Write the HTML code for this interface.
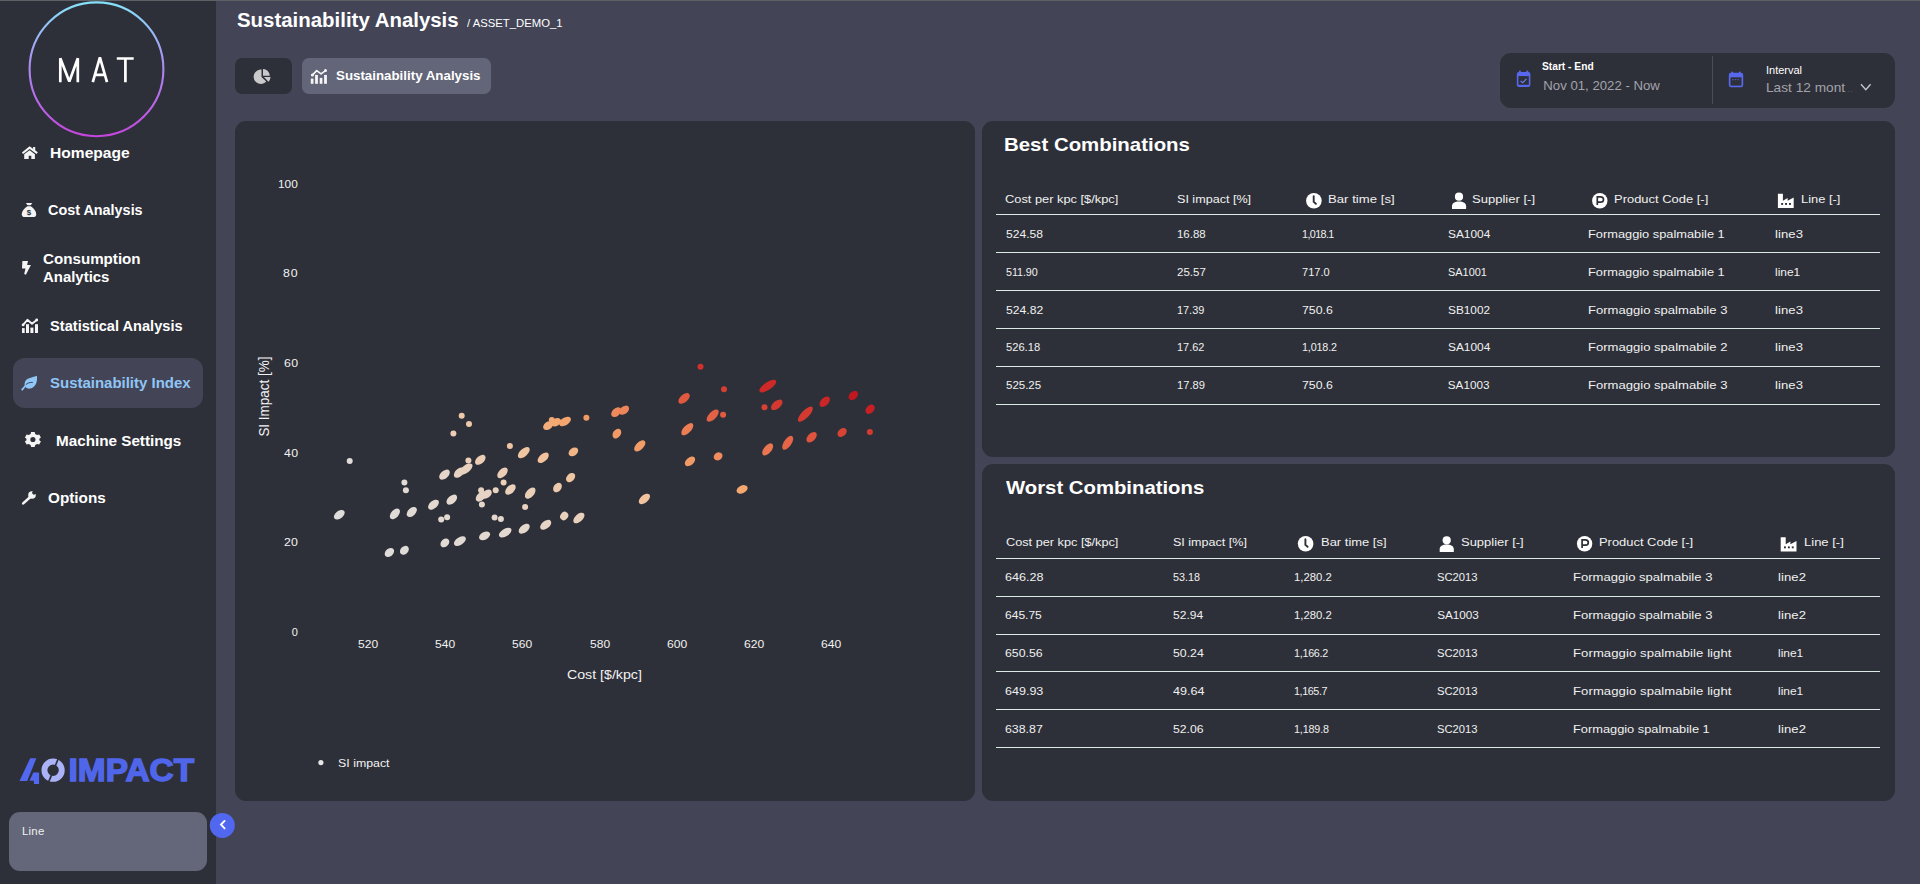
<!DOCTYPE html>
<html><head><meta charset="utf-8"><title>Sustainability Analysis</title>
<style>
html,body{margin:0;padding:0;}
body{width:1920px;height:884px;overflow:hidden;background:#434557;position:relative;font-family:"Liberation Sans",sans-serif;}
.t{position:absolute;white-space:nowrap;font-family:"Liberation Sans",sans-serif;}
.box{position:absolute;}
svg{position:absolute;left:0;top:0;overflow:visible;}
</style></head><body>
<div class="box" style="left:0;top:0;width:216px;height:884px;background:#2e3039"></div>
<div class="box" style="left:0;top:0;width:1920px;height:1px;background:#5f5f66"></div>
<!-- active nav pill -->
<div class="box" style="left:13px;top:358px;width:190px;height:50px;border-radius:12px;background:#434556"></div>
<!-- line card -->
<div class="box" style="left:9px;top:812px;width:198px;height:59px;border-radius:11px;background:#646779"></div>
<!-- tabs -->
<div class="box" style="left:235px;top:58px;width:57px;height:36px;border-radius:7px;background:#2e3039"></div>
<div class="box" style="left:302px;top:58px;width:189px;height:36px;border-radius:7px;background:#636679"></div>
<!-- date picker -->
<div class="box" style="left:1500px;top:53px;width:395px;height:55px;border-radius:11px;background:#2e3039"></div>
<div class="box" style="left:1712px;top:56px;width:1px;height:48px;background:#4a4c5c"></div>
<!-- cards -->
<div class="box" style="left:235px;top:121px;width:740px;height:680px;border-radius:11px;background:#2e3039"></div>
<div class="box" style="left:982px;top:121px;width:913px;height:336px;border-radius:11px;background:#2e3039"></div>
<div class="box" style="left:982px;top:464px;width:913px;height:337px;border-radius:11px;background:#2e3039"></div>
<!-- table lines -->
<div class="box" style="left:996px;top:214px;width:884px;height:1px;background:#dcebe6"></div>
<div class="box" style="left:996px;top:252px;width:884px;height:1px;background:#dcebe6"></div>
<div class="box" style="left:996px;top:290px;width:884px;height:1px;background:#dcebe6"></div>
<div class="box" style="left:996px;top:328px;width:884px;height:1px;background:#dcebe6"></div>
<div class="box" style="left:996px;top:366px;width:884px;height:1px;background:#dcebe6"></div>
<div class="box" style="left:996px;top:404px;width:884px;height:1px;background:#dcebe6"></div>
<div class="box" style="left:996px;top:558px;width:884px;height:1px;background:#dcebe6"></div>
<div class="box" style="left:996px;top:596px;width:884px;height:1px;background:#dcebe6"></div>
<div class="box" style="left:996px;top:634px;width:884px;height:1px;background:#dcebe6"></div>
<div class="box" style="left:996px;top:671px;width:884px;height:1px;background:#dcebe6"></div>
<div class="box" style="left:996px;top:709px;width:884px;height:1px;background:#dcebe6"></div>
<div class="box" style="left:996px;top:747px;width:884px;height:1px;background:#dcebe6"></div>
<!-- logo circle -->
<svg width="1920" height="884">
<defs><linearGradient id="lg" x1="0" y1="0" x2="0" y2="1"><stop offset="0" stop-color="#86e2f8"/><stop offset="0.45" stop-color="#a890f2"/><stop offset="1" stop-color="#c545de"/></linearGradient></defs>
<circle cx="96.5" cy="69.3" r="66.9" fill="none" stroke="url(#lg)" stroke-width="2.1"/>
<g fill="none" stroke="#fff" stroke-width="2.7" stroke-linejoin="miter" stroke-miterlimit="1.2" stroke-linecap="butt">
<path d="M60.3 82.2 V58.2 L69.3 81.6 L77.8 58.2 V82.2"/>
<path d="M92.8 82.2 L99.9 57.3 L107 82.2 M95.2 74.8 H104.6"/>
<path d="M116.8 58.5 H133.7 M125.4 58.5 V82.2"/>
</g>
</svg>
<!-- scatter -->
<svg width="1920" height="884">
<circle cx="349.7" cy="460.9" r="3" fill="#dfdcd9"/>
<ellipse cx="339.3" cy="514.7" rx="6.1" ry="3.8" transform="rotate(-37.7 339.3 514.7)" fill="#dedddc"/>
<circle cx="404.4" cy="482.6" r="3" fill="#e2d9d2"/>
<circle cx="405.9" cy="490.3" r="3" fill="#e2d9d2"/>
<ellipse cx="394.9" cy="513.9" rx="6.3" ry="3.8" transform="rotate(-48.2 394.9 513.9)" fill="#e0dbd6"/>
<ellipse cx="411.8" cy="512.0" rx="6.1" ry="3.8" transform="rotate(-45.0 411.8 512.0)" fill="#e1dad4"/>
<ellipse cx="389.4" cy="552.5" rx="5.3" ry="3.8" transform="rotate(-40.8 389.4 552.5)" fill="#dfdcd9"/>
<ellipse cx="404.4" cy="550.3" rx="5.0" ry="3.8" transform="rotate(-45.0 404.4 550.3)" fill="#dfdbd8"/>
<ellipse cx="433.5" cy="504.7" rx="6.3" ry="3.8" transform="rotate(-40.9 433.5 504.7)" fill="#e3d9d1"/>
<ellipse cx="451.8" cy="499.6" rx="6.3" ry="3.8" transform="rotate(-41.8 451.8 499.6)" fill="#e4d8cf"/>
<circle cx="441.2" cy="519.4" r="3" fill="#e2d9d2"/>
<circle cx="447.1" cy="517.2" r="3" fill="#e2d9d1"/>
<ellipse cx="444.9" cy="542.9" rx="5.0" ry="3.8" transform="rotate(-44.4 444.9 542.9)" fill="#e1dad5"/>
<ellipse cx="459.9" cy="541.1" rx="6.7" ry="3.8" transform="rotate(-32.7 459.9 541.1)" fill="#e1dad4"/>
<ellipse cx="444.5" cy="474.6" rx="6.3" ry="3.8" transform="rotate(-41.8 444.5 474.6)" fill="#e6d6c9"/>
<ellipse cx="459.2" cy="472.6" rx="6.4" ry="3.8" transform="rotate(-42.7 459.2 472.6)" fill="#e7d3c3"/>
<ellipse cx="466.1" cy="469.0" rx="7.6" ry="3.8" transform="rotate(-37.6 466.1 469.0)" fill="#e8d1bf"/>
<circle cx="468.4" cy="460.6" r="3" fill="#eacfba"/>
<ellipse cx="480.3" cy="459.8" rx="6.2" ry="3.8" transform="rotate(-41.2 480.3 459.8)" fill="#ebcdb6"/>
<ellipse cx="502.5" cy="472.9" rx="6.4" ry="3.8" transform="rotate(-45.0 502.5 472.9)" fill="#ebcdb5"/>
<circle cx="503.6" cy="482.4" r="3" fill="#eacfb9"/>
<circle cx="495.7" cy="490.3" r="3" fill="#e8d2c0"/>
<ellipse cx="480.9" cy="496.5" rx="6.2" ry="3.8" transform="rotate(-44.5 480.9 496.5)" fill="#e6d5c6"/>
<ellipse cx="486.6" cy="494.2" rx="5.8" ry="3.8" transform="rotate(-36.1 486.6 494.2)" fill="#e7d4c4"/>
<circle cx="481.1" cy="490.3" r="3" fill="#e7d3c4"/>
<circle cx="481.9" cy="504.5" r="3" fill="#e5d6ca"/>
<ellipse cx="510.4" cy="489.5" rx="6.4" ry="3.8" transform="rotate(-45.0 510.4 489.5)" fill="#e9d0bb"/>
<ellipse cx="530.2" cy="493.1" rx="6.7" ry="3.8" transform="rotate(-48.0 530.2 493.1)" fill="#eaceb8"/>
<circle cx="525.1" cy="506.9" r="3" fill="#e8d2c1"/>
<ellipse cx="557.5" cy="487.5" rx="5.3" ry="3.8" transform="rotate(-54.5 557.5 487.5)" fill="#edcaad"/>
<ellipse cx="570.6" cy="477.6" rx="5.3" ry="3.8" transform="rotate(-45.0 570.6 477.6)" fill="#f0c5a2"/>
<ellipse cx="523.8" cy="452.6" rx="7.2" ry="3.8" transform="rotate(-41.9 523.8 452.6)" fill="#f0c5a2"/>
<circle cx="509.9" cy="445.9" r="3" fill="#f0c5a3"/>
<ellipse cx="543.2" cy="457.8" rx="6.7" ry="3.8" transform="rotate(-42.0 543.2 457.8)" fill="#f1c29d"/>
<ellipse cx="573.4" cy="451.9" rx="5.3" ry="3.8" transform="rotate(-36.0 573.4 451.9)" fill="#f2b588"/>
<ellipse cx="548.1" cy="425.6" rx="5.5" ry="3.8" transform="rotate(-35.9 548.1 425.6)" fill="#f3ae7b"/>
<ellipse cx="556.0" cy="422.2" rx="5.4" ry="3.8" transform="rotate(-30.3 556.0 422.2)" fill="#f4a973"/>
<ellipse cx="565.0" cy="421.5" rx="6.6" ry="3.8" transform="rotate(-32.0 565.0 421.5)" fill="#f4a56d"/>
<circle cx="551.8" cy="420.0" r="3" fill="#f4a973"/>
<circle cx="586.4" cy="417.7" r="3" fill="#f29966"/>
<ellipse cx="616.1" cy="412.2" rx="5.8" ry="3.8" transform="rotate(-45.0 616.1 412.2)" fill="#ee895c"/>
<ellipse cx="624.0" cy="410.2" rx="5.7" ry="3.8" transform="rotate(-37.0 624.0 410.2)" fill="#ee8459"/>
<ellipse cx="616.9" cy="433.6" rx="5.3" ry="3.8" transform="rotate(-54.0 616.9 433.6)" fill="#f29a66"/>
<circle cx="494.6" cy="517.5" r="3" fill="#e4d7cd"/>
<circle cx="500.9" cy="519.1" r="3" fill="#e5d7cc"/>
<ellipse cx="505.2" cy="532.6" rx="7.0" ry="3.8" transform="rotate(-32.3 505.2 532.6)" fill="#e3d8cf"/>
<ellipse cx="524.2" cy="528.7" rx="6.4" ry="3.8" transform="rotate(-38.3 524.2 528.7)" fill="#e4d7cc"/>
<ellipse cx="545.7" cy="524.8" rx="6.4" ry="3.8" transform="rotate(-37.8 545.7 524.8)" fill="#e6d5c6"/>
<ellipse cx="564.2" cy="516.0" rx="4.4" ry="3.8" transform="rotate(-52.2 564.2 516.0)" fill="#e9d1bd"/>
<ellipse cx="578.9" cy="518.0" rx="6.7" ry="3.8" transform="rotate(-41.6 578.9 518.0)" fill="#e9d0bc"/>
<ellipse cx="484.6" cy="535.8" rx="6.0" ry="3.8" transform="rotate(-28.8 484.6 535.8)" fill="#e2d9d1"/>
<circle cx="461.7" cy="415.8" r="3" fill="#eec8a9"/>
<circle cx="469.0" cy="424.0" r="3" fill="#eec8a9"/>
<circle cx="453.4" cy="433.5" r="3" fill="#ebcdb5"/>
<ellipse cx="639.8" cy="445.9" rx="7.0" ry="3.8" transform="rotate(-45.0 639.8 445.9)" fill="#f29c68"/>
<ellipse cx="644.4" cy="498.9" rx="6.7" ry="3.8" transform="rotate(-40.8 644.4 498.9)" fill="#f1c39f"/>
<circle cx="700.5" cy="366.7" r="3" fill="#d0312c"/>
<circle cx="724.0" cy="389.3" r="3" fill="#d63e32"/>
<ellipse cx="684.1" cy="398.4" rx="6.8" ry="3.8" transform="rotate(-41.2 684.1 398.4)" fill="#e15a40"/>
<ellipse cx="712.7" cy="415.6" rx="7.7" ry="3.8" transform="rotate(-45.4 712.7 415.6)" fill="#e36144"/>
<circle cx="723.1" cy="414.8" r="3" fill="#e25b41"/>
<ellipse cx="687.3" cy="429.2" rx="7.7" ry="3.8" transform="rotate(-45.4 687.3 429.2)" fill="#ec7d54"/>
<ellipse cx="690.0" cy="461.3" rx="6.0" ry="3.8" transform="rotate(-40.6 690.0 461.3)" fill="#f29a66"/>
<ellipse cx="718.1" cy="456.4" rx="4.6" ry="3.8" transform="rotate(-30.4 718.1 456.4)" fill="#ef8d5e"/>
<ellipse cx="742.1" cy="489.4" rx="5.9" ry="3.8" transform="rotate(-26.6 742.1 489.4)" fill="#f4a76f"/>
<ellipse cx="767.8" cy="386.1" rx="9.8" ry="3.8" transform="rotate(-33.6 767.8 386.1)" fill="#cc2928"/>
<circle cx="764.5" cy="407.3" r="3" fill="#d74133"/>
<ellipse cx="776.8" cy="404.8" rx="6.8" ry="3.8" transform="rotate(-39.6 776.8 404.8)" fill="#d43930"/>
<ellipse cx="805.4" cy="414.1" rx="9.9" ry="3.8" transform="rotate(-45.3 805.4 414.1)" fill="#d43a30"/>
<ellipse cx="824.7" cy="401.7" rx="6.3" ry="3.8" transform="rotate(-45.0 824.7 401.7)" fill="#ca2527"/>
<ellipse cx="853.3" cy="395.5" rx="5.4" ry="3.8" transform="rotate(-45.0 853.3 395.5)" fill="#c31720"/>
<ellipse cx="870.1" cy="409.2" rx="5.4" ry="3.8" transform="rotate(-45.0 870.1 409.2)" fill="#c72024"/>
<circle cx="869.9" cy="432.0" r="3" fill="#d43a30"/>
<ellipse cx="842.1" cy="432.5" rx="5.2" ry="3.8" transform="rotate(-41.3 842.1 432.5)" fill="#d84434"/>
<ellipse cx="811.6" cy="437.2" rx="6.3" ry="3.8" transform="rotate(-45.0 811.6 437.2)" fill="#df543c"/>
<ellipse cx="787.7" cy="442.8" rx="8.0" ry="3.8" transform="rotate(-55.4 787.7 442.8)" fill="#e56546"/>
<ellipse cx="767.7" cy="449.4" rx="7.2" ry="3.8" transform="rotate(-50.0 767.7 449.4)" fill="#ea7550"/>
<circle cx="320.9" cy="762.6" r="2.6" fill="#e6e6e6"/>
</svg>

<!-- sidebar icons -->
<svg width="1920" height="884">
<g fill="#f4f4f4">
<!-- house -->
<path d="M22.5 153.2 L29.6 147.6 L37.2 153.2" fill="none" stroke="#f4f4f4" stroke-width="2.1" stroke-linejoin="miter"/>
<rect x="33.1" y="147" width="2.1" height="4"/>
<path d="M24.2 154.2 L29.6 150.2 L34.9 154.2 V158.9 H31.3 V155.8 H28.7 V158.9 H24.2 Z"/>
<!-- money bag -->
<path d="M25.9 202.9 H32.3 L30.6 205.3 H27.6 Z"/>
<path d="M27.4 206.3 H30.8 C34 208.5 36.2 211.5 36.2 214.2 C36.2 216.3 35 217 33 217 H25 C23 217 21.8 216.3 21.8 214.2 C21.8 211.5 24 208.5 27.4 206.3 Z"/>
<text x="29" y="215.3" font-family="Liberation Sans" font-size="8" font-weight="bold" fill="#2e3039" text-anchor="middle">$</text>
<!-- bolt -->
<path d="M22.4 260.9 H28 L27.1 265 H30.9 L25.9 274.7 L24.2 274.1 L25.5 268.6 H22 Z"/>
<!-- stats -->
<g transform="translate(16 314)">
<rect x="6" y="14.1" width="2.7" height="4.9"/><rect x="10" y="10.2" width="3" height="8.8"/><rect x="14.4" y="13.6" width="3" height="5.4"/><rect x="19" y="10.2" width="3" height="8.8"/>
<path d="M7.1 10.9 L11.4 5.8 L16 9.8 L20.7 6" fill="none" stroke="#f4f4f4" stroke-width="1.8" stroke-linejoin="round" stroke-linecap="round"/>
<circle cx="7.1" cy="10.9" r="1.4"/><circle cx="20.7" cy="6" r="1.4"/>
</g>
<!-- gear -->
<g transform="translate(32.9 439.5) scale(0.92)">
<path d="M-1.9 -8.2 H1.9 L2.5 -6 L4.6 -4.8 L6.8 -5.5 L8.7 -2.2 L7 -0.7 V0.7 L8.7 2.2 L6.8 5.5 L4.6 4.8 L2.5 6 L1.9 8.2 H-1.9 L-2.5 6 L-4.6 4.8 L-6.8 5.5 L-8.7 2.2 L-7 0.7 V-0.7 L-8.7 -2.2 L-6.8 -5.5 L-4.6 -4.8 L-2.5 -6 Z"/>
<circle cx="0" cy="0" r="2.8" fill="#2e3039"/>
</g>
<!-- wrench -->
<g transform="translate(16 486)">
<line x1="7.2" y1="17.4" x2="14" y2="11.2" stroke="#f4f4f4" stroke-width="2.6" stroke-linecap="round"/>
<circle cx="16" cy="9" r="3.8"/>
<circle cx="18.3" cy="6.6" r="2" fill="#2e3039"/>
<path d="M17 7.8 L21 3.8" stroke="#2e3039" stroke-width="2.6"/>
</g>
</g>
<!-- leaf -->
<g transform="translate(16 371)">
<path d="M20.9 4.8 C15.5 7.2 9.5 6.5 8.6 12.5 C8.2 15.8 10.5 17.9 13.8 17.6 C19 17.2 21.8 11.5 20.9 4.8 Z" fill="#90c6f6"/>
<path d="M6.2 18.6 C8 16.2 10 14 12 12.8" fill="none" stroke="#90c6f6" stroke-width="1.8" stroke-linecap="round"/>
<path d="M9.8 13.6 C11.8 11.9 14 11.2 16.8 11.4" fill="none" stroke="#3a4a66" stroke-width="1"/>
</g>
</svg>
<!-- tab icons -->
<svg width="1920" height="884">
<g fill="#c9c9c9" transform="translate(251.2 64)">
<path d="M10.3 5.6 V12.9 L15 17.6 A7.2 7.2 0 1 1 10.3 5.6 Z"/>
<path d="M11.8 4.9 A7 7 0 0 1 18.6 11.7 H11.8 Z"/>
<path d="M12.7 13.1 H19.4 A7 7 0 0 1 17.2 17.7 Z"/>
</g>
<g fill="#f6f6f6">
<rect x="310.8" y="78.6" width="2.7" height="5.2"/><rect x="315.1" y="74.9" width="2.8" height="8.9"/><rect x="319.7" y="77.9" width="2.7" height="5.9"/><rect x="324.1" y="74.9" width="2.8" height="8.9"/>
<path d="M312.4 75.1 L316.7 70.6 L321.1 73.9 L325.5 70.6" fill="none" stroke="#f6f6f6" stroke-width="1.7" stroke-linejoin="round" stroke-linecap="round"/>
<circle cx="312.4" cy="75.1" r="1.5"/><circle cx="325.5" cy="70.6" r="1.5"/>
</g>
<!-- calendars -->
<g transform="translate(1516 70.7)">
<rect x="0.8" y="1.2" width="13.6" height="15" rx="2.2" fill="#5868ee"/>
<rect x="2.4" y="5.4" width="10.4" height="8.7" fill="#2e3039"/>
<rect x="3" y="0" width="1.8" height="2" fill="#5868ee"/><rect x="10.4" y="0" width="1.8" height="2" fill="#5868ee"/>
<path d="M4.6 10.3 L6.8 12 L10.4 8.2" fill="none" stroke="#6c7af0" stroke-width="1.2"/>
</g>
<g transform="translate(1728.3 71.7)">
<rect x="0.5" y="1" width="14.4" height="14.6" rx="2.2" fill="#5868ee"/>
<rect x="2.2" y="5.6" width="11" height="8.3" fill="#2e3039"/>
<rect x="3" y="0" width="1.8" height="2" fill="#5868ee"/><rect x="10.6" y="0" width="1.8" height="2" fill="#5868ee"/>
<path d="M4 8 H11.4" stroke="#5868ee" stroke-width="0.9" stroke-dasharray="1.4 1.2"/>
</g>
<path d="M1861 84.2 L1865.8 89.6 L1870.6 84.2" fill="none" stroke="#c4c4cc" stroke-width="1.4"/>
</svg>
<!-- table header icons -->
<svg width="1920" height="884">
<g id="hb">
<g fill="#fff">
<circle cx="1313.9" cy="200.8" r="7.8"/>
<path d="M1313.7 196.3 V201.9 L1315.9 203.8" fill="none" stroke="#2e3039" stroke-width="1.9" stroke-linecap="round" stroke-linejoin="round"/>
<circle cx="1459" cy="196.7" r="4.1"/>
<path d="M1452 208.9 V206.2 C1452 203.3 1454.8 201.6 1459 201.6 C1463.2 201.6 1466.1 203.3 1466.1 206.2 V208.9 Z"/>
<circle cx="1599.8" cy="200.8" r="7.7"/>
<path d="M1597.3 204.9 V196.8 H1600.6 C1602.4 196.8 1603.5 197.9 1603.5 199.5 C1603.5 201.1 1602.4 202.2 1600.6 202.2 H1597.3" fill="none" stroke="#2e3039" stroke-width="1.7"/>
<path d="M1777.9 208 V193.8 H1782.9 V200.8 L1787.6 198 V200.8 L1793.7 197.6 V208 Z"/>
</g>
<g fill="#2e3039"><rect x="1781.2" y="203" width="1.9" height="1.9"/><rect x="1785.1" y="203" width="1.9" height="1.9"/><rect x="1789" y="203" width="1.9" height="1.9"/></g>
</g>
</svg>
<svg width="1920" height="884">
<g fill="#fff">
<circle cx="1305.6" cy="543.8" r="7.8"/>
<path d="M1305.4 539.3 V544.9 L1307.6 546.8" fill="none" stroke="#2e3039" stroke-width="1.9" stroke-linecap="round" stroke-linejoin="round"/>
<circle cx="1446.7" cy="540.3" r="4.1"/>
<path d="M1439.7 551.9 V549.2 C1439.7 546.3 1442.5 544.6 1446.7 544.6 C1450.9 544.6 1453.8 546.3 1453.8 549.2 V551.9 Z"/>
<circle cx="1584.6" cy="543.8" r="7.7"/>
<path d="M1582.1 547.9 V539.8 H1585.4 C1587.2 539.8 1588.3 540.9 1588.3 542.5 C1588.3 544.1 1587.2 545.2 1585.4 545.2 H1582.1" fill="none" stroke="#2e3039" stroke-width="1.7"/>
<path d="M1780.7 551.4 V537.2 H1785.7 V544.2 L1790.4 541.4 V544.2 L1796.5 541 V551.4 Z"/>
</g>
<g fill="#2e3039"><rect x="1784" y="546.4" width="1.9" height="1.9"/><rect x="1787.9" y="546.4" width="1.9" height="1.9"/><rect x="1791.8" y="546.4" width="1.9" height="1.9"/></g>
</svg>
<!-- 40IMPACT logo -->
<svg width="1920" height="884">
<g fill="#5268ee">
<path d="M30.2 758.2 H36.4 L27.2 781 H19.5 Z"/>
<path d="M29.5 780.7 L33.3 772.6 H39.1 V784 H33.9 V780.7 Z"/>
</g>
<circle cx="53.1" cy="770.2" r="8.65" fill="none" stroke="#aab3f7" stroke-width="5.9"/>
<path d="M58.2 758.8 L48.8 781.6" stroke="#2e3039" stroke-width="1.7"/>
<text x="68.6" y="780.5" font-family="Liberation Sans" font-weight="bold" font-size="31.2" fill="#5066ea" stroke="#5066ea" stroke-width="1.4" textLength="125.5" lengthAdjust="spacingAndGlyphs">IMPACT</text>
</svg>
<!-- collapse button -->
<svg width="1920" height="884">
<circle cx="222.3" cy="825.4" r="12.5" fill="#5267f0"/>
<path d="M224.6 820.9 L221 824.6 L224.6 828.4" fill="none" stroke="#fff" stroke-width="1.9" stroke-linecap="round" stroke-linejoin="miter"/>
</svg>
<!-- y axis title -->
<svg width="1920" height="884">
<text transform="translate(269.3 436.6) rotate(-90)" font-family="Liberation Sans" font-size="14.2" fill="#f2f2f2" textLength="80" lengthAdjust="spacingAndGlyphs">SI Impact [%]</text>
</svg>

<div class="t" style="left:237.18px;top:11.29px;font-size:19.50px;line-height:19.50px;letter-spacing:0.000px;color:#fff;transform:scaleX(1.0471);transform-origin:0 0;font-weight:bold">Sustainability Analysis</div>
<div class="t" style="left:467.00px;top:17.38px;font-size:11.60px;line-height:11.60px;letter-spacing:0.000px;color:#fff;transform:scaleX(0.9757);transform-origin:0 0">/ ASSET_DEMO_1</div>
<div class="t" style="left:336.41px;top:68.69px;font-size:13.60px;line-height:13.60px;letter-spacing:0.000px;color:#fff;transform:scaleX(0.9791);transform-origin:0 0;font-weight:bold">Sustainability Analysis</div>
<div class="t" style="left:1542.30px;top:61.73px;font-size:10.00px;line-height:10.00px;letter-spacing:0.000px;color:#fff;transform:scaleX(1.0211);transform-origin:0 0;font-weight:bold">Start - End</div>
<div class="t" style="left:1543.30px;top:79.13px;font-size:13.20px;line-height:13.20px;letter-spacing:0.000px;color:#a3a3ab">Nov 01, 2022 - Now</div>
<div class="t" style="left:1765.83px;top:65.57px;font-size:10.20px;line-height:10.20px;letter-spacing:0.000px;color:#ffffff;transform:scaleX(1.0790);transform-origin:0 0">Interval</div>
<div class="t" style="left:1765.86px;top:81.33px;font-size:13.20px;line-height:13.20px;letter-spacing:0.000px;color:#a3a3ab;transform:scaleX(1.0366);transform-origin:0 0">Last 12 mont</div>
<div class="t" style="left:1844.42px;top:85.73px;font-size:8.00px;line-height:8.00px;letter-spacing:0.592px;color:#5c5d66;transform:scaleX(1.1200);transform-origin:0 0">...</div>
<div class="t" style="left:49.74px;top:145.84px;font-size:14.60px;line-height:14.60px;letter-spacing:0.000px;color:#fff;transform:scaleX(1.0679);transform-origin:0 0;font-weight:bold">Homepage</div>
<div class="t" style="left:48.21px;top:202.64px;font-size:14.60px;line-height:14.60px;letter-spacing:0.000px;color:#fff;transform:scaleX(0.9860);transform-origin:0 0;font-weight:bold">Cost Analysis</div>
<div class="t" style="left:43.18px;top:251.64px;font-size:14.60px;line-height:14.60px;letter-spacing:0.000px;color:#fff;transform:scaleX(1.0382);transform-origin:0 0;font-weight:bold">Consumption</div>
<div class="t" style="left:43.09px;top:269.64px;font-size:14.60px;line-height:14.60px;letter-spacing:0.000px;color:#fff;transform:scaleX(1.0235);transform-origin:0 0;font-weight:bold">Analytics</div>
<div class="t" style="left:50.10px;top:318.64px;font-size:14.60px;line-height:14.60px;letter-spacing:0.000px;color:#fff;font-weight:bold">Statistical Analysis</div>
<div class="t" style="left:49.99px;top:375.74px;font-size:14.60px;line-height:14.60px;letter-spacing:0.000px;color:#90c6f6;transform:scaleX(1.0257);transform-origin:0 0;font-weight:bold">Sustainability Index</div>
<div class="t" style="left:55.76px;top:434.14px;font-size:14.60px;line-height:14.60px;letter-spacing:-0.000px;color:#fff;transform:scaleX(1.0443);transform-origin:0 0;font-weight:bold">Machine Settings</div>
<div class="t" style="left:48.18px;top:491.14px;font-size:14.60px;line-height:14.60px;letter-spacing:0.000px;color:#fff;transform:scaleX(1.0475);transform-origin:0 0;font-weight:bold">Options</div>
<div class="t" style="left:21.70px;top:827.17px;font-size:10.20px;line-height:10.20px;letter-spacing:0.213px;color:#f0f0f0;transform:scaleX(1.1200);transform-origin:0 0">Line</div>
<div class="t" style="left:278.24px;top:178.79px;font-size:11.00px;line-height:11.00px;letter-spacing:0.000px;color:#f2f2f2;transform:scaleX(1.0738);transform-origin:0 0">100</div>
<div class="t" style="left:283.45px;top:268.49px;font-size:11.00px;line-height:11.00px;letter-spacing:0.725px;color:#f2f2f2;transform:scaleX(1.1200);transform-origin:0 0">80</div>
<div class="t" style="left:283.84px;top:358.19px;font-size:11.00px;line-height:11.00px;letter-spacing:0.379px;color:#f2f2f2;transform:scaleX(1.1200);transform-origin:0 0">60</div>
<div class="t" style="left:283.88px;top:447.79px;font-size:11.00px;line-height:11.00px;letter-spacing:0.347px;color:#f2f2f2;transform:scaleX(1.1200);transform-origin:0 0">40</div>
<div class="t" style="left:284.14px;top:537.29px;font-size:11.00px;line-height:11.00px;letter-spacing:0.111px;color:#f2f2f2;transform:scaleX(1.1200);transform-origin:0 0">20</div>
<div class="t" style="left:291.80px;top:627.09px;font-size:11.00px;line-height:11.00px;letter-spacing:0.000px;color:#f2f2f2">0</div>
<div class="t" style="left:357.66px;top:638.59px;font-size:11.00px;line-height:11.00px;letter-spacing:0.000px;color:#f2f2f2;transform:scaleX(1.0949);transform-origin:0 0">520</div>
<div class="t" style="left:434.96px;top:638.59px;font-size:11.00px;line-height:11.00px;letter-spacing:0.000px;color:#f2f2f2;transform:scaleX(1.0949);transform-origin:0 0">540</div>
<div class="t" style="left:512.26px;top:638.59px;font-size:11.00px;line-height:11.00px;letter-spacing:0.000px;color:#f2f2f2;transform:scaleX(1.0949);transform-origin:0 0">560</div>
<div class="t" style="left:589.56px;top:638.59px;font-size:11.00px;line-height:11.00px;letter-spacing:0.000px;color:#f2f2f2;transform:scaleX(1.0949);transform-origin:0 0">580</div>
<div class="t" style="left:666.75px;top:638.59px;font-size:11.00px;line-height:11.00px;letter-spacing:0.000px;color:#f2f2f2;transform:scaleX(1.1012);transform-origin:0 0">600</div>
<div class="t" style="left:744.05px;top:638.59px;font-size:11.00px;line-height:11.00px;letter-spacing:0.000px;color:#f2f2f2;transform:scaleX(1.1012);transform-origin:0 0">620</div>
<div class="t" style="left:821.35px;top:638.59px;font-size:11.00px;line-height:11.00px;letter-spacing:0.000px;color:#f2f2f2;transform:scaleX(1.1012);transform-origin:0 0">640</div>
<div class="t" style="left:566.85px;top:668.00px;font-size:13.00px;line-height:13.00px;letter-spacing:0.000px;color:#f2f2f2;transform:scaleX(1.0905);transform-origin:0 0">Cost [$/kpc]</div>
<div class="t" style="left:338.04px;top:757.69px;font-size:11.00px;line-height:11.00px;letter-spacing:0.019px;color:#f2f2f2;transform:scaleX(1.1200);transform-origin:0 0">SI impact</div>
<div class="t" style="left:1004.11px;top:134.92px;font-size:19.00px;line-height:19.00px;letter-spacing:0.000px;color:#fff;transform:scaleX(1.0739);transform-origin:0 0;font-weight:bold">Best Combinations</div>
<div class="t" style="left:1005.60px;top:478.12px;font-size:19.00px;line-height:19.00px;letter-spacing:0.000px;color:#fff;transform:scaleX(1.0690);transform-origin:0 0;font-weight:bold">Worst Combinations</div>
<div class="t" style="left:1005.45px;top:193.10px;font-size:11.70px;line-height:11.70px;letter-spacing:0.000px;color:#f0f0f0;transform:scaleX(1.0965);transform-origin:0 0">Cost per kpc [$/kpc]</div>
<div class="t" style="left:1176.96px;top:193.10px;font-size:11.70px;line-height:11.70px;letter-spacing:0.000px;color:#f0f0f0;transform:scaleX(1.0758);transform-origin:0 0">SI impact [%]</div>
<div class="t" style="left:1327.74px;top:193.10px;font-size:11.70px;line-height:11.70px;letter-spacing:0.039px;color:#f0f0f0;transform:scaleX(1.1200);transform-origin:0 0">Bar time [s]</div>
<div class="t" style="left:1472.34px;top:193.10px;font-size:11.70px;line-height:11.70px;letter-spacing:0.000px;color:#f0f0f0;transform:scaleX(1.1152);transform-origin:0 0">Supplier [-]</div>
<div class="t" style="left:1614.20px;top:193.10px;font-size:11.70px;line-height:11.70px;letter-spacing:0.000px;color:#f0f0f0;transform:scaleX(1.1073);transform-origin:0 0">Product Code [-]</div>
<div class="t" style="left:1800.91px;top:193.10px;font-size:11.70px;line-height:11.70px;letter-spacing:0.000px;color:#f0f0f0;transform:scaleX(1.1021);transform-origin:0 0">Line [-]</div>
<div class="t" style="left:1005.56px;top:536.00px;font-size:11.70px;line-height:11.70px;letter-spacing:0.000px;color:#f0f0f0;transform:scaleX(1.0877);transform-origin:0 0">Cost per kpc [$/kpc]</div>
<div class="t" style="left:1172.76px;top:536.00px;font-size:11.70px;line-height:11.70px;letter-spacing:0.000px;color:#f0f0f0;transform:scaleX(1.0729);transform-origin:0 0">SI impact [%]</div>
<div class="t" style="left:1320.70px;top:536.00px;font-size:11.70px;line-height:11.70px;letter-spacing:0.000px;color:#f0f0f0;transform:scaleX(1.1093);transform-origin:0 0">Bar time [s]</div>
<div class="t" style="left:1460.85px;top:536.00px;font-size:11.70px;line-height:11.70px;letter-spacing:-0.000px;color:#f0f0f0;transform:scaleX(1.1098);transform-origin:0 0">Supplier [-]</div>
<div class="t" style="left:1598.81px;top:536.00px;font-size:11.70px;line-height:11.70px;letter-spacing:0.000px;color:#f0f0f0;transform:scaleX(1.1049);transform-origin:0 0">Product Code [-]</div>
<div class="t" style="left:1803.50px;top:536.00px;font-size:11.70px;line-height:11.70px;letter-spacing:0.000px;color:#f0f0f0;transform:scaleX(1.1138);transform-origin:0 0">Line [-]</div>
<div class="t" style="left:1005.59px;top:228.00px;font-size:11.70px;line-height:11.70px;letter-spacing:-0.000px;color:#f0f0f0;transform:scaleX(1.0342);transform-origin:0 0">524.58</div>
<div class="t" style="left:1176.72px;top:228.00px;font-size:11.70px;line-height:11.70px;letter-spacing:0.000px;color:#f0f0f0;transform:scaleX(0.9804);transform-origin:0 0">16.88</div>
<div class="t" style="left:1301.76px;top:228.00px;font-size:11.70px;line-height:11.70px;letter-spacing:-0.645px;color:#f0f0f0;transform:scaleX(0.9200);transform-origin:0 0">1,018.1</div>
<div class="t" style="left:1447.79px;top:228.00px;font-size:11.70px;line-height:11.70px;letter-spacing:0.000px;color:#f0f0f0;transform:scaleX(1.0170);transform-origin:0 0">SA1004</div>
<div class="t" style="left:1587.91px;top:228.00px;font-size:11.70px;line-height:11.70px;letter-spacing:0.000px;color:#f0f0f0;transform:scaleX(1.0964);transform-origin:0 0">Formaggio spalmabile 1</div>
<div class="t" style="left:1774.82px;top:228.00px;font-size:11.70px;line-height:11.70px;letter-spacing:0.061px;color:#f0f0f0;transform:scaleX(1.1200);transform-origin:0 0">line3</div>
<div class="t" style="left:1005.63px;top:265.80px;font-size:11.70px;line-height:11.70px;letter-spacing:-0.080px;color:#f0f0f0;transform:scaleX(0.9200);transform-origin:0 0">511.90</div>
<div class="t" style="left:1177.01px;top:265.80px;font-size:11.70px;line-height:11.70px;letter-spacing:0.000px;color:#f0f0f0;transform:scaleX(0.9851);transform-origin:0 0">25.57</div>
<div class="t" style="left:1301.93px;top:265.80px;font-size:11.70px;line-height:11.70px;letter-spacing:0.000px;color:#f0f0f0;transform:scaleX(0.9424);transform-origin:0 0">717.0</div>
<div class="t" style="left:1447.83px;top:265.80px;font-size:11.70px;line-height:11.70px;letter-spacing:0.000px;color:#f0f0f0;transform:scaleX(0.9357);transform-origin:0 0">SA1001</div>
<div class="t" style="left:1587.91px;top:265.80px;font-size:11.70px;line-height:11.70px;letter-spacing:0.000px;color:#f0f0f0;transform:scaleX(1.0964);transform-origin:0 0">Formaggio spalmabile 1</div>
<div class="t" style="left:1774.89px;top:265.80px;font-size:11.70px;line-height:11.70px;letter-spacing:-0.000px;color:#f0f0f0;transform:scaleX(1.0201);transform-origin:0 0">line1</div>
<div class="t" style="left:1005.58px;top:303.60px;font-size:11.70px;line-height:11.70px;letter-spacing:0.000px;color:#f0f0f0;transform:scaleX(1.0402);transform-origin:0 0">524.82</div>
<div class="t" style="left:1176.75px;top:303.60px;font-size:11.70px;line-height:11.70px;letter-spacing:0.000px;color:#f0f0f0;transform:scaleX(0.9323);transform-origin:0 0">17.39</div>
<div class="t" style="left:1301.87px;top:303.60px;font-size:11.70px;line-height:11.70px;letter-spacing:0.000px;color:#f0f0f0;transform:scaleX(1.0506);transform-origin:0 0">750.6</div>
<div class="t" style="left:1447.79px;top:303.60px;font-size:11.70px;line-height:11.70px;letter-spacing:0.000px;color:#f0f0f0;transform:scaleX(1.0110);transform-origin:0 0">SB1002</div>
<div class="t" style="left:1587.89px;top:303.60px;font-size:11.70px;line-height:11.70px;letter-spacing:0.000px;color:#f0f0f0;transform:scaleX(1.1176);transform-origin:0 0">Formaggio spalmabile 3</div>
<div class="t" style="left:1774.82px;top:303.60px;font-size:11.70px;line-height:11.70px;letter-spacing:0.061px;color:#f0f0f0;transform:scaleX(1.1200);transform-origin:0 0">line3</div>
<div class="t" style="left:1005.62px;top:341.40px;font-size:11.70px;line-height:11.70px;letter-spacing:0.000px;color:#f0f0f0;transform:scaleX(0.9538);transform-origin:0 0">526.18</div>
<div class="t" style="left:1176.75px;top:341.40px;font-size:11.70px;line-height:11.70px;letter-spacing:0.000px;color:#f0f0f0;transform:scaleX(0.9336);transform-origin:0 0">17.62</div>
<div class="t" style="left:1301.76px;top:341.40px;font-size:11.70px;line-height:11.70px;letter-spacing:-0.166px;color:#f0f0f0;transform:scaleX(0.9200);transform-origin:0 0">1,018.2</div>
<div class="t" style="left:1447.79px;top:341.40px;font-size:11.70px;line-height:11.70px;letter-spacing:0.000px;color:#f0f0f0;transform:scaleX(1.0170);transform-origin:0 0">SA1004</div>
<div class="t" style="left:1587.89px;top:341.40px;font-size:11.70px;line-height:11.70px;letter-spacing:0.000px;color:#f0f0f0;transform:scaleX(1.1178);transform-origin:0 0">Formaggio spalmabile 2</div>
<div class="t" style="left:1774.82px;top:341.40px;font-size:11.70px;line-height:11.70px;letter-spacing:0.061px;color:#f0f0f0;transform:scaleX(1.1200);transform-origin:0 0">line3</div>
<div class="t" style="left:1005.61px;top:379.20px;font-size:11.70px;line-height:11.70px;letter-spacing:0.000px;color:#f0f0f0;transform:scaleX(0.9823);transform-origin:0 0">525.25</div>
<div class="t" style="left:1176.74px;top:379.20px;font-size:11.70px;line-height:11.70px;letter-spacing:0.000px;color:#f0f0f0;transform:scaleX(0.9562);transform-origin:0 0">17.89</div>
<div class="t" style="left:1301.87px;top:379.20px;font-size:11.70px;line-height:11.70px;letter-spacing:0.000px;color:#f0f0f0;transform:scaleX(1.0506);transform-origin:0 0">750.6</div>
<div class="t" style="left:1447.80px;top:379.20px;font-size:11.70px;line-height:11.70px;letter-spacing:0.000px;color:#f0f0f0">SA1003</div>
<div class="t" style="left:1587.89px;top:379.20px;font-size:11.70px;line-height:11.70px;letter-spacing:0.000px;color:#f0f0f0;transform:scaleX(1.1176);transform-origin:0 0">Formaggio spalmabile 3</div>
<div class="t" style="left:1774.82px;top:379.20px;font-size:11.70px;line-height:11.70px;letter-spacing:0.061px;color:#f0f0f0;transform:scaleX(1.1200);transform-origin:0 0">line3</div>
<div class="t" style="left:1005.46px;top:571.30px;font-size:11.70px;line-height:11.70px;letter-spacing:0.000px;color:#f0f0f0;transform:scaleX(1.0775);transform-origin:0 0">646.28</div>
<div class="t" style="left:1172.93px;top:571.30px;font-size:11.70px;line-height:11.70px;letter-spacing:-0.012px;color:#f0f0f0;transform:scaleX(0.9200);transform-origin:0 0">53.18</div>
<div class="t" style="left:1293.93px;top:571.30px;font-size:11.70px;line-height:11.70px;letter-spacing:0.000px;color:#f0f0f0;transform:scaleX(0.9658);transform-origin:0 0">1,280.2</div>
<div class="t" style="left:1437.22px;top:571.30px;font-size:11.70px;line-height:11.70px;letter-spacing:0.000px;color:#f0f0f0;transform:scaleX(0.9581);transform-origin:0 0">SC2013</div>
<div class="t" style="left:1572.69px;top:571.30px;font-size:11.70px;line-height:11.70px;letter-spacing:0.000px;color:#f0f0f0;transform:scaleX(1.1176);transform-origin:0 0">Formaggio spalmabile 3</div>
<div class="t" style="left:1777.92px;top:571.30px;font-size:11.70px;line-height:11.70px;letter-spacing:0.066px;color:#f0f0f0;transform:scaleX(1.1200);transform-origin:0 0">line2</div>
<div class="t" style="left:1005.49px;top:609.20px;font-size:11.70px;line-height:11.70px;letter-spacing:0.000px;color:#f0f0f0;transform:scaleX(1.0293);transform-origin:0 0">645.75</div>
<div class="t" style="left:1172.89px;top:609.20px;font-size:11.70px;line-height:11.70px;letter-spacing:0.000px;color:#f0f0f0;transform:scaleX(1.0299);transform-origin:0 0">52.94</div>
<div class="t" style="left:1293.93px;top:609.20px;font-size:11.70px;line-height:11.70px;letter-spacing:0.000px;color:#f0f0f0;transform:scaleX(0.9658);transform-origin:0 0">1,280.2</div>
<div class="t" style="left:1437.20px;top:609.20px;font-size:11.70px;line-height:11.70px;letter-spacing:0.000px;color:#f0f0f0">SA1003</div>
<div class="t" style="left:1572.69px;top:609.20px;font-size:11.70px;line-height:11.70px;letter-spacing:0.000px;color:#f0f0f0;transform:scaleX(1.1176);transform-origin:0 0">Formaggio spalmabile 3</div>
<div class="t" style="left:1777.92px;top:609.20px;font-size:11.70px;line-height:11.70px;letter-spacing:0.066px;color:#f0f0f0;transform:scaleX(1.1200);transform-origin:0 0">line2</div>
<div class="t" style="left:1005.47px;top:647.10px;font-size:11.70px;line-height:11.70px;letter-spacing:-0.000px;color:#f0f0f0;transform:scaleX(1.0524);transform-origin:0 0">650.56</div>
<div class="t" style="left:1172.88px;top:647.10px;font-size:11.70px;line-height:11.70px;letter-spacing:0.000px;color:#f0f0f0;transform:scaleX(1.0496);transform-origin:0 0">50.24</div>
<div class="t" style="left:1293.96px;top:647.10px;font-size:11.70px;line-height:11.70px;letter-spacing:-0.293px;color:#f0f0f0;transform:scaleX(0.9200);transform-origin:0 0">1,166.2</div>
<div class="t" style="left:1437.22px;top:647.10px;font-size:11.70px;line-height:11.70px;letter-spacing:0.000px;color:#f0f0f0;transform:scaleX(0.9581);transform-origin:0 0">SC2013</div>
<div class="t" style="left:1572.69px;top:647.10px;font-size:11.70px;line-height:11.70px;letter-spacing:0.073px;color:#f0f0f0;transform:scaleX(1.1200);transform-origin:0 0">Formaggio spalmabile light</div>
<div class="t" style="left:1777.99px;top:647.10px;font-size:11.70px;line-height:11.70px;letter-spacing:-0.000px;color:#f0f0f0;transform:scaleX(1.0201);transform-origin:0 0">line1</div>
<div class="t" style="left:1005.46px;top:685.00px;font-size:11.70px;line-height:11.70px;letter-spacing:0.000px;color:#f0f0f0;transform:scaleX(1.0719);transform-origin:0 0">649.93</div>
<div class="t" style="left:1173.08px;top:685.00px;font-size:11.70px;line-height:11.70px;letter-spacing:0.000px;color:#f0f0f0;transform:scaleX(1.0771);transform-origin:0 0">49.64</div>
<div class="t" style="left:1293.96px;top:685.00px;font-size:11.70px;line-height:11.70px;letter-spacing:-0.424px;color:#f0f0f0;transform:scaleX(0.9200);transform-origin:0 0">1,165.7</div>
<div class="t" style="left:1437.22px;top:685.00px;font-size:11.70px;line-height:11.70px;letter-spacing:0.000px;color:#f0f0f0;transform:scaleX(0.9581);transform-origin:0 0">SC2013</div>
<div class="t" style="left:1572.69px;top:685.00px;font-size:11.70px;line-height:11.70px;letter-spacing:0.073px;color:#f0f0f0;transform:scaleX(1.1200);transform-origin:0 0">Formaggio spalmabile light</div>
<div class="t" style="left:1777.99px;top:685.00px;font-size:11.70px;line-height:11.70px;letter-spacing:-0.000px;color:#f0f0f0;transform:scaleX(1.0201);transform-origin:0 0">line1</div>
<div class="t" style="left:1005.47px;top:722.90px;font-size:11.70px;line-height:11.70px;letter-spacing:0.000px;color:#f0f0f0;transform:scaleX(1.0557);transform-origin:0 0">638.87</div>
<div class="t" style="left:1172.88px;top:722.90px;font-size:11.70px;line-height:11.70px;letter-spacing:0.000px;color:#f0f0f0;transform:scaleX(1.0440);transform-origin:0 0">52.06</div>
<div class="t" style="left:1293.96px;top:722.90px;font-size:11.70px;line-height:11.70px;letter-spacing:-0.151px;color:#f0f0f0;transform:scaleX(0.9200);transform-origin:0 0">1,189.8</div>
<div class="t" style="left:1437.22px;top:722.90px;font-size:11.70px;line-height:11.70px;letter-spacing:0.000px;color:#f0f0f0;transform:scaleX(0.9581);transform-origin:0 0">SC2013</div>
<div class="t" style="left:1572.71px;top:722.90px;font-size:11.70px;line-height:11.70px;letter-spacing:0.000px;color:#f0f0f0;transform:scaleX(1.0964);transform-origin:0 0">Formaggio spalmabile 1</div>
<div class="t" style="left:1777.92px;top:722.90px;font-size:11.70px;line-height:11.70px;letter-spacing:0.066px;color:#f0f0f0;transform:scaleX(1.1200);transform-origin:0 0">line2</div>
</body></html>
